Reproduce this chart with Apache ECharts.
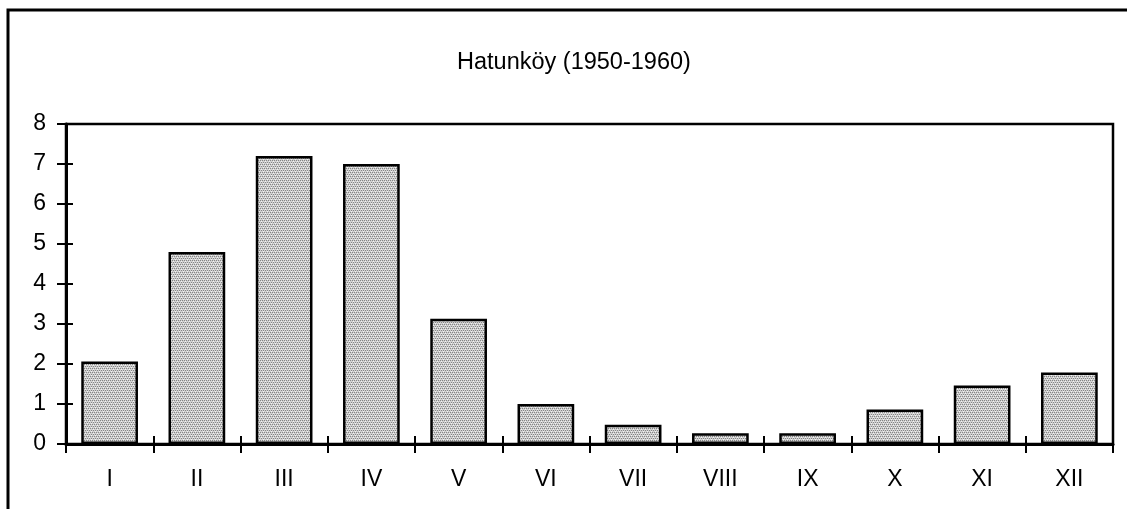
<!DOCTYPE html>
<html>
<head>
<meta charset="utf-8">
<script src="https://cdn.jsdelivr.net/npm/echarts@6/dist/echarts.min.js"></script>
<style>
  html, body { margin: 0; padding: 0; background: #fff; }
  #main { width: 1127px; height: 509px; }
</style>
</head>
<body>
<div id="main"></div>
<script>
// aylar (Roma rakamı) ve değerler
var months = ['I', 'II', 'III', 'IV', 'V', 'VI', 'VII', 'VIII', 'IX', 'X', 'XI', 'XII'];
var values = [2.06, 4.8, 7.2, 7.0, 3.13, 1.0, 0.48, 0.27, 0.27, 0.86, 1.46, 1.79];
var yTicks = [0, 1, 2, 3, 4, 5, 6, 7, 8];
var titleText = 'Hatunköy (1950-1960)';

// noktalı gri dolgu
function makePattern() {
  var c = document.createElement('canvas');
  c.width = 4; c.height = 4;
  var ctx = c.getContext('2d');
  ctx.fillStyle = '#d0d0d0';
  ctx.fillRect(0, 0, 4, 4);
  ctx.fillStyle = '#858585';
  ctx.fillRect(0, 0, 1, 1);
  ctx.fillRect(2, 0, 1, 1);
  ctx.fillRect(1, 2, 1, 1);
  ctx.fillRect(3, 2, 1, 1);
  ctx.fillStyle = '#f2f2f2';
  ctx.fillRect(1, 1, 1, 1);
  ctx.fillRect(3, 3, 1, 1);
  return c;
}

var font = 'Liberation Sans, Arial, sans-serif';
var chart = echarts.init(document.getElementById('main'), null, { renderer: 'canvas' });

var option = {
  animation: false,
  backgroundColor: '#fff',
  title: {
    text: titleText,
    left: 452,
    top: 46,
    textStyle: { fontFamily: font, fontSize: 23.5, fontWeight: 'normal', color: '#000' }
  },
  grid: {
    left: 66, right: 14, top: 124, bottom: 65,
    show: true, borderColor: '#000', borderWidth: 2.5, backgroundColor: 'transparent'
  },
  graphic: [
    {
      type: 'polyline',
      shape: { points: [[8, 509], [8, 10], [1127, 10]] },
      style: { stroke: '#000', lineWidth: 3, fill: null }
    }
  ],
  xAxis: [
    {
      type: 'category',
      data: months,
      position: 'bottom',
      axisLine: { lineStyle: { color: '#000', width: 3 } },
      axisTick: { show: true, length: 9, lineStyle: { color: '#000', width: 2 } },
      axisLabel: { color: '#000', fontFamily: font, fontSize: 23, margin: 24 }
    },
    {
      type: 'category',
      data: months,
      position: 'bottom',
      axisLine: { show: false },
      axisTick: { show: true, inside: true, length: 8, lineStyle: { color: '#000', width: 2 } },
      axisLabel: { show: false }
    }
  ],
  yAxis: [
    {
      type: 'value',
      min: 0, max: 8, interval: 1,
      position: 'left',
      splitLine: { show: false },
      axisLine: { show: true, lineStyle: { color: '#000', width: 3 } },
      axisTick: { show: true, length: 9, lineStyle: { color: '#000', width: 2 } },
      axisLabel: {
        color: '#000', fontFamily: font, fontSize: 23, margin: 20,
        formatter: function (v) { return yTicks.indexOf(v) >= 0 ? String(v) : ''; }
      }
    },
    {
      type: 'value',
      min: 0, max: 8, interval: 1,
      position: 'left',
      splitLine: { show: false },
      axisLine: { show: false },
      axisTick: { show: true, inside: true, length: 7, lineStyle: { color: '#000', width: 2 } },
      axisLabel: { show: false }
    }
  ],
  series: [
    {
      type: 'bar',
      data: values,
      barCategoryGap: '35%',
      itemStyle: {
        color: { image: makePattern(), repeat: 'repeat' },
        borderColor: '#000',
        borderWidth: 2.5
      }
    }
  ]
};
chart.setOption(option);
</script>
</body>
</html>
